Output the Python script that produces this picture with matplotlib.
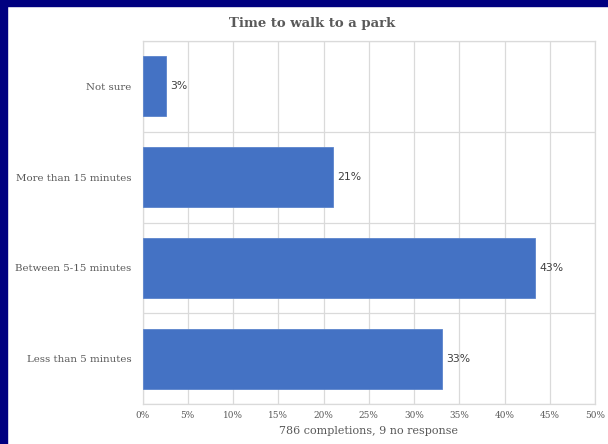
import matplotlib
matplotlib.use("Agg")
import matplotlib.pyplot as plt
from matplotlib.patches import Rectangle

# Survey answers, bottom to top as drawn
categories = ["Less than 5 minutes", "Between 5-15 minutes", "More than 15 minutes", "Not sure"]
shares = [33.1, 43.4, 21.0, 2.6]
x_ticks = [0, 5, 10, 15, 20, 25, 30, 35, 40, 45, 50]

TITLE = "Time to walk to a park"
XLABEL = "786 completions, 9 no response"

W, H = 608, 444
fig = plt.figure(figsize=(W / 100, H / 100), dpi=100)
fig.patch.set_facecolor("white")

ax = fig.add_axes([142.5 / W, 1 - 404 / H, (595 - 142.5) / W, (404 - 41) / H])

ypos = list(range(len(categories)))
ax.barh(ypos, shares, height=0.66, color="#4472C4", edgecolor="#5b84cc",
        linewidth=0.6, zorder=3)

for y, v in zip(ypos, shares):
    ax.text(v + 0.5, y, f"{v:.0f}%", va="center", ha="left",
            fontsize=7.8, color="#404040", family="DejaVu Sans")

ax.set_xlim(0, 50)
ax.set_ylim(-0.5, len(categories) - 0.5)
ax.set_xticks(x_ticks)
ax.set_xticklabels([f"{t}%" for t in x_ticks], fontsize=6.4,
                   color="#595959", family="DejaVu Serif")
ax.set_yticks(ypos)
ax.set_yticklabels(categories, fontsize=7.4, color="#595959", family="DejaVu Serif")
ax.tick_params(axis="both", length=0)
ax.tick_params(axis="y", pad=8)
ax.tick_params(axis="x", pad=5)

# Excel-style grid: vertical at ticks, horizontal between categories
ax.set_yticks([y - 0.5 for y in range(len(categories) + 1)], minor=True)
ax.tick_params(axis="y", which="minor", length=0)
ax.grid(True, axis="x", which="major", color="#dadada", linewidth=0.9, zorder=0)
ax.grid(True, axis="y", which="minor", color="#dadada", linewidth=0.9, zorder=0)
ax.grid(False, axis="y", which="major")
for s in ax.spines.values():
    s.set_color("#dadada")
    s.set_linewidth(0.9)

ax.set_xlabel(XLABEL, fontsize=8, color="#595959", family="DejaVu Serif", labelpad=4)

fig.text(0.513, 1 - 23 / H, TITLE, ha="center", va="center",
         fontsize=9.5, fontweight="bold", color="#595959", family="DejaVu Serif")

# navy frame along the top and left edges
fig.patches.append(Rectangle((0, 1 - 6 / H), 1, 6 / H, transform=fig.transFigure,
                             color="#000080", zorder=10))
fig.patches.append(Rectangle((0, 0), 7 / W, 1, transform=fig.transFigure,
                             color="#000080", zorder=10))

fig.savefig("out.png", dpi=100)
